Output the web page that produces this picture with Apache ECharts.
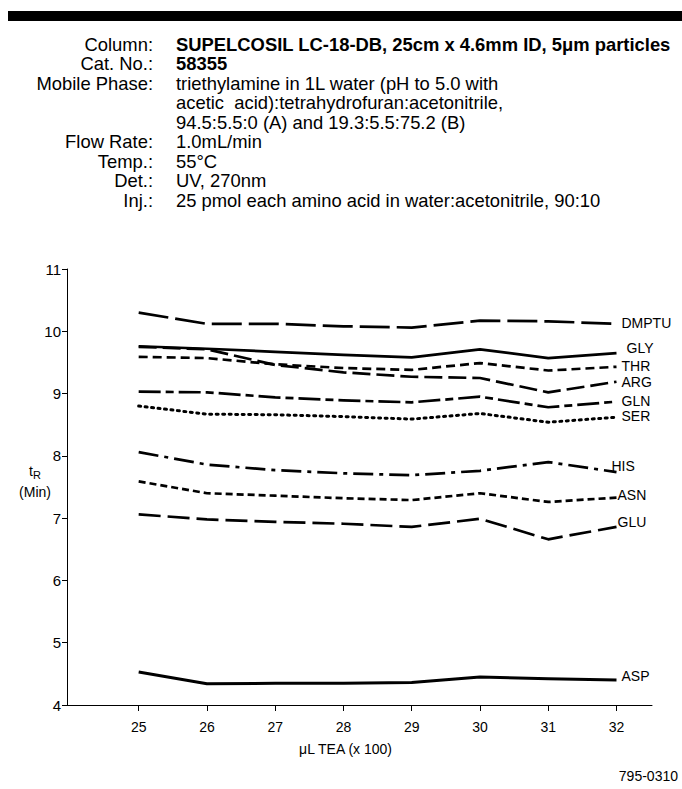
<!DOCTYPE html>
<html>
<head>
<meta charset="utf-8">
<script src="https://cdn.jsdelivr.net/npm/echarts@6/dist/echarts.min.js"></script>
<style>
html,body{margin:0;padding:0;background:#fff;}
#c{width:682px;height:789px;}
</style>
</head>
<body>
<div id="c"></div>
<script>
// ---- data ----
var xValues = [25, 26, 27, 28, 29, 30, 31, 32];
var xTicks = [25, 26, 27, 28, 29, 30, 31, 32];
var yTicks = [4, 5, 6, 7, 8, 9, 10, 11];
var seriesNames = ['DMPTU', 'GLY', 'THR', 'ARG', 'GLN', 'SER', 'HIS', 'ASN', 'GLU', 'ASP'];
var DMPTU = [10.30, 10.12, 10.12, 10.08, 10.06, 10.17, 10.16, 10.12];
var GLY   = [9.76, 9.72, 9.67, 9.62, 9.58, 9.71, 9.57, 9.65];
var THR   = [9.59, 9.57, 9.47, 9.41, 9.38, 9.49, 9.37, 9.43];
var ARG   = [9.75, 9.71, 9.46, 9.34, 9.27, 9.25, 9.02, 9.19];
var GLN   = [9.03, 9.02, 8.94, 8.89, 8.86, 8.95, 8.78, 8.87];
var SER   = [8.80, 8.67, 8.66, 8.63, 8.59, 8.68, 8.54, 8.62];
var HIS   = [8.06, 7.86, 7.77, 7.72, 7.69, 7.76, 7.90, 7.74];
var ASN   = [7.59, 7.40, 7.36, 7.32, 7.29, 7.40, 7.26, 7.33];
var GLU   = [7.06, 6.98, 6.94, 6.91, 6.86, 6.99, 6.66, 6.86];
var ASP   = [4.53, 4.34, 4.35, 4.35, 4.36, 4.45, 4.42, 4.40];
var values = {DMPTU:DMPTU, GLY:GLY, THR:THR, ARG:ARG, GLN:GLN, SER:SER, HIS:HIS, ASN:ASN, GLU:GLU, ASP:ASP};

var headerLabels = ['Column:', 'Cat. No.:', 'Mobile Phase:', '', '', 'Flow Rate:', 'Temp.:', 'Det.:', 'Inj.:'];
var headerValues = [
  'SUPELCOSIL LC-18-DB, 25cm x 4.6mm ID, 5\u03bcm particles',
  '58355',
  'triethylamine in 1L water (pH to 5.0 with',
  'acetic  acid):tetrahydrofuran:acetonitrile,',
  '94.5:5.5:0 (A) and 19.3:5.5:75.2 (B)',
  '1.0mL/min',
  '55\u00b0C',
  'UV, 270nm',
  '25 pmol each amino acid in water:acetonitrile, 90:10'
];
var headerBold = [true, true, false, false, false, false, false, false, false];

// ---- styles ----
var styles = {
  DMPTU: {type: [30, 7], width: 2.7, off: [0, -1]},
  GLY:   {type: 'solid', width: 2.7, off: [5, -5]},
  THR:   {type: [9, 5], width: 2.7, off: [0, -1]},
  ARG:   {type: [18, 6], width: 2.7, off: [0, 0]},
  GLN:   {type: [22, 5, 8, 5], width: 2.7, off: [0, -1]},
  SER:   {type: [2, 4.5], width: 3, cap: 'round', off: [0, -1]},
  HIS:   {type: [20, 6, 4, 6], width: 2.7, off: [-10, -6]},
  ASN:   {type: [7, 4], width: 2.7, off: [-4, -3]},
  GLU:   {type: [22, 7], width: 2.7, off: [-4, -5]},
  ASP:   {type: 'solid', width: 3, off: [0, -4]}
};

var FONT = "'Liberation Sans', Arial, Helvetica, sans-serif";

var series = seriesNames.map(function (name) {
  var s = styles[name];
  return {
    name: name,
    type: 'line',
    data: xValues.map(function (x, i) { return [x, values[name][i]]; }),
    symbol: 'none',
    lineStyle: {color: '#000', width: s.width, type: s.type, cap: s.cap || 'butt', join: 'round'},
    endLabel: {
      show: true, formatter: '{a}', color: '#000', fontSize: 14, fontFamily: FONT,
      distance: 5, offset: s.off
    },
    emphasis: {disabled: true},
    silent: true
  };
});

var graphics = [
  {type: 'rect', shape: {x: 8, y: 11, width: 674, height: 10}, style: {fill: '#000'}}
];
for (var i = 0; i < headerValues.length; i++) {
  var y = 44 + 19.5 * i;
  if (headerLabels[i]) {
    graphics.push({type: 'text', x: 153, y: y, style: {text: headerLabels[i], fill: '#000', font: '18.4px ' + FONT, textAlign: 'right', textVerticalAlign: 'middle'}});
  }
  graphics.push({type: 'text', x: 176, y: y, style: {text: headerValues[i], fill: '#000', font: (headerBold[i] ? 'bold ' : '') + '18.4px ' + FONT, textAlign: 'left', textVerticalAlign: 'middle'}});
}
graphics.push({type: 'text', x: 35, y: 481, style: {
  text: '{t|t}{s|R}\n{m|(Min)}', align: 'center', verticalAlign: 'middle',
  rich: {
    t: {fontSize: 14, fontFamily: FONT, fill: '#000', lineHeight: 22},
    s: {fontSize: 11, fontFamily: FONT, fill: '#000', padding: [8, 0, 0, 0], lineHeight: 22},
    m: {fontSize: 14, fontFamily: FONT, fill: '#000', lineHeight: 20}
  }
}});
graphics.push({type: 'text', x: 678, y: 776, style: {text: '795-0310', fill: '#000', font: '14px ' + FONT, textAlign: 'right', textVerticalAlign: 'middle'}});

var chart = echarts.init(document.getElementById('c'), null, {renderer: 'svg'});
chart.setOption({
  animation: false,
  backgroundColor: '#fff',
  grid: {left: 67, top: 269, right: 30, bottom: 84, containLabel: false},
  xAxis: {
    type: 'value', min: 23.95, max: 32.52,
    axisLine: {show: true, lineStyle: {color: '#000', width: 1}},
    axisTick: {show: true, length: 6, lineStyle: {color: '#000'}, customValues: xTicks},
    axisLabel: {color: '#000', fontSize: 14, fontFamily: FONT, margin: 15, customValues: xTicks},
    splitLine: {show: false},
    name: '\u03bcL TEA (x 100)', nameLocation: 'middle', nameGap: 37,
    nameTextStyle: {color: '#000', fontSize: 14, fontFamily: FONT, padding: [0, 28, 0, 0]}
  },
  yAxis: {
    type: 'value', min: 4, max: 11, interval: 1,
    axisLine: {show: true, lineStyle: {color: '#000', width: 1}},
    axisTick: {show: true, length: 5, lineStyle: {color: '#000'}},
    axisLabel: {color: '#000', fontSize: 15, fontFamily: FONT, margin: 6},
    splitLine: {show: false}
  },
  graphic: graphics,
  series: series
});
</script>
</body>
</html>
